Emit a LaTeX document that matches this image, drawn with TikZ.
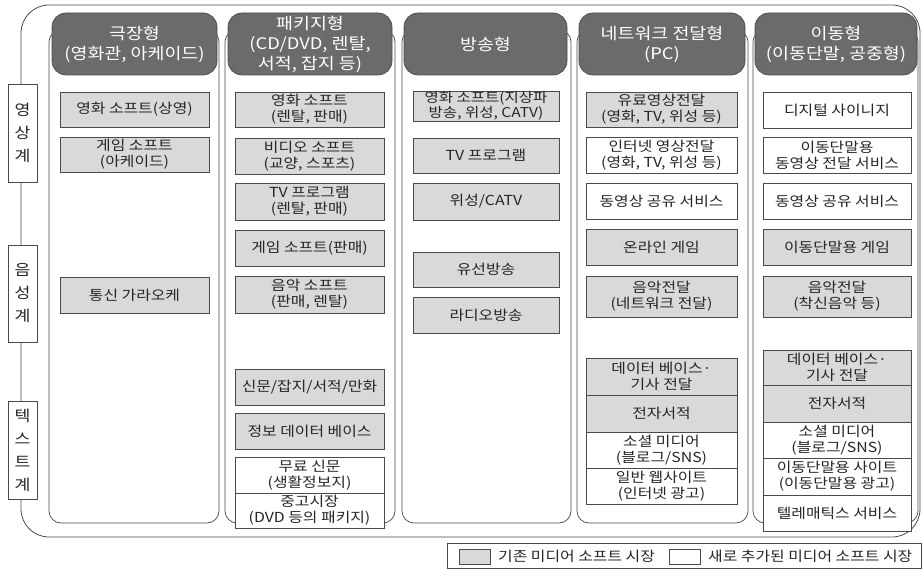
\documentclass[tikz,border=0pt]{standalone}
\usepackage{fontspec}
\setmainfont[FakeStretch=1.15]{Noto Sans CJK KR}
\definecolor{hdrfill}{HTML}{6B6B6B}
\definecolor{oldfill}{HTML}{D9D9D9}
\definecolor{linec}{HTML}{4A4A4A}
\newcommand{\cellbox}[7]{\node[#2, minimum width={(#5-#3)*1pt}, minimum height={(#6-#4)*1pt}] (#1) at ({(#3+#5)/2},{(#4+#6)/2}) {#7};}
\tikzset{
  frame/.style={draw=linec, line width=0.8pt, rounded corners=28pt, inner sep=0pt},
  colbody/.style={draw=linec, line width=0.7pt, fill=white, rounded corners=12pt, inner sep=0pt},
  hdr/.style={draw=linec, line width=0.7pt, fill=hdrfill, rounded corners=14pt, text=white, align=center, inner sep=0pt, font=\fontsize{16}{20}\selectfont},
  cell/.style={draw=linec, line width=0.6pt, align=center, inner sep=0pt, text=black!85, font=\fontsize{13.8}{16}\selectfont},
  old/.style={cell, fill=oldfill},
  new/.style={cell, fill=white},
  tight/.style={old, font=\fontsize{13.5}{13}\selectfont},
  lab/.style={draw=linec, line width=0.6pt, fill=white, align=center, inner sep=0pt, text=black!85, font=\fontsize{15}{23}\selectfont},
  legtext/.style={inner sep=0pt, anchor=west, text=black!85, font=\fontsize{13.8}{16}\selectfont}
}
\begin{document}
\begin{tikzpicture}[x=1pt,y=-1pt]
\useasboundingbox (0,0) rectangle (923,569);
% outer frame
\cellbox{outer}{frame}{21}{5}{920}{537}{}
% side labels
\cellbox{l1}{lab}{8}{84}{37}{182}{영\\상\\계}
\cellbox{l2}{lab}{8}{245}{37}{342}{음\\성\\계}
\cellbox{l3}{lab}{8}{401}{37}{499}{텍\\스\\트\\계}
% column bodies
\cellbox{b1}{colbody}{49}{30}{219}{523}{}
\cellbox{b2}{colbody}{225}{30}{395}{523}{}
\cellbox{b3}{colbody}{402}{30}{571}{523}{}
\cellbox{b4}{colbody}{577}{30}{748}{523}{}
\cellbox{b5}{colbody}{753}{30}{918}{523}{}
% headers
\cellbox{h1}{hdr}{52}{13}{217}{75}{극장형\\(영화관, 아케이드)}
\cellbox{h2}{hdr}{228}{13}{392}{75}{패키지형\\(CD/DVD, 렌탈,\\서적, 잡지 등)}
\cellbox{h3}{hdr}{404}{13}{567}{75}{방송형}
\cellbox{h4}{hdr}{579}{13}{745}{75}{네트워크 전달형\\(PC)}
\cellbox{h5}{hdr}{755}{13}{917}{75}{이동형\\(이동단말, 공중형)}
% column 1
\cellbox{c11}{old}{60}{92}{209}{127}{영화 소프트(상영)}
\cellbox{c12}{old}{60}{137}{209}{172}{게임 소프트\\(아케이드)}
\cellbox{c13}{old}{60}{277}{209}{313}{통신 가라오케}
% column 2
\cellbox{c21}{old}{235}{92}{384}{127}{영화 소프트\\(렌탈, 판매)}
\cellbox{c22}{old}{235}{138}{384}{174}{비디오 소프트\\(교양, 스포츠)}
\cellbox{c23}{old}{235}{183}{384}{220}{TV 프로그램\\(렌탈, 판매)}
\cellbox{c24}{old}{235}{230}{384}{266}{게임 소프트(판매)}
\cellbox{c25}{old}{235}{276}{384}{313}{음악 소프트\\(판매, 렌탈)}
\cellbox{c26}{old}{235}{369}{384}{405}{신문/잡지/서적/만화}
\cellbox{c27}{old}{235}{413}{384}{449}{정보 데이터 베이스}
\cellbox{c28}{new}{235}{457}{384}{493}{무료 신문\\(생활정보지)}
\cellbox{c29}{new}{235}{493}{384}{528}{중고시장\\(DVD 등의 패키지)}
% column 3
\cellbox{c31}{tight}{413}{91}{559}{121}{영화 소프트(지상파\\방송, 위성, CATV)}
\cellbox{c32}{old}{413}{138}{559}{173}{TV 프로그램}
\cellbox{c33}{old}{413}{183}{559}{220}{위성/CATV}
\cellbox{c34}{old}{413}{252}{559}{287}{유선방송}
\cellbox{c35}{old}{413}{297}{559}{333}{라디오방송}
% column 4
\cellbox{c41}{old}{586}{92}{737}{127}{유료영상전달\\(영화, TV, 위성 등)}
\cellbox{c42}{new}{586}{137}{737}{173}{인터넷 영상전달\\(영화, TV, 위성 등)}
\cellbox{c43}{new}{586}{183}{737}{219}{동영상 공유 서비스}
\cellbox{c44}{old}{586}{229}{737}{265}{온라인 게임}
\cellbox{c45}{old}{586}{276}{737}{317}{음악전달\\(네트워크 전달)}
\cellbox{c46}{old}{586}{358}{737}{395}{데이터 베이스·\\기사 전달}
\cellbox{c47}{old}{586}{395}{737}{432}{전자서적}
\cellbox{c48}{new}{586}{432}{737}{468}{소셜 미디어\\(블로그/SNS)}
\cellbox{c49}{new}{586}{468}{737}{504}{일반 웹사이트\\(인터넷 광고)}
% column 5
\cellbox{c51}{new}{763}{92}{911}{128}{디지털 사이니지}
\cellbox{c52}{new}{763}{137}{911}{173}{이동단말용\\동영상 전달 서비스}
\cellbox{c53}{new}{763}{183}{911}{219}{동영상 공유 서비스}
\cellbox{c54}{old}{763}{229}{911}{265}{이동단말용 게임}
\cellbox{c55}{old}{763}{276}{911}{317}{음악전달\\(착신음악 등)}
\cellbox{c56}{old}{763}{350}{911}{385}{데이터 베이스·\\기사 전달}
\cellbox{c57}{old}{763}{385}{911}{422}{전자서적}
\cellbox{c58}{new}{763}{422}{911}{458}{소셜 미디어\\(블로그/SNS)}
\cellbox{c59}{new}{763}{458}{911}{495}{이동단말용 사이트\\(이동단말용 광고)}
\cellbox{c5a}{new}{763}{495}{911}{531}{텔레매틱스 서비스}
% legend
\cellbox{leg}{new}{447}{543}{921}{568}{}
\cellbox{sw1}{old}{459}{549}{490}{564}{}
\node[legtext] (t1) at (498,556.5) {기존 미디어 소프트 시장};
\cellbox{sw2}{new}{669}{549}{700}{564}{}
\node[legtext] (t2) at (708,556.5) {새로 추가된 미디어 소프트 시장};
\end{tikzpicture}
\end{document}
